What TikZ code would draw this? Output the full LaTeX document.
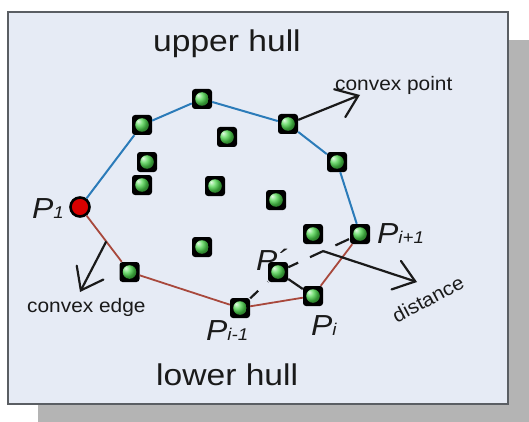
\documentclass[tikz,border=0pt]{standalone}
\usepackage{fontspec}
\setmainfont{Liberation Sans}
\usetikzlibrary{arrows.meta,calc}
\definecolor{boxfill}{HTML}{E6EBF5}
\definecolor{boxedge}{HTML}{5A5E63}
\definecolor{shadowgray}{HTML}{B4B4B4}
\definecolor{upblue}{HTML}{2B7BB9}
\definecolor{lowbrown}{HTML}{A8483C}
\definecolor{ink}{HTML}{1A1A1A}
\definecolor{ptgreen}{HTML}{4CD64C}
\newcommand{\plab}[1]{\scalebox{1.1}[1]{\fontsize{29}{29}\selectfont\itshape P\fontsize{17}{17}\selectfont #1}}
\tikzset{
  gpt/.style={rectangle, rounded corners=3pt, fill=black, minimum size=20pt, inner sep=0pt,
    path picture={\shade[ball color=ptgreen] (path picture bounding box.center) circle (6.8pt);}},
  redpt/.style={circle, fill=red!85!black, draw=black, line width=2.6pt, minimum size=19pt, inner sep=0pt},
  upline/.style={upblue, line width=2pt},
  lowline/.style={lowbrown, line width=1.8pt},
  lab/.style={anchor=base west, inner sep=0pt, text=ink},
  barb/.style={ink, line width=2.2pt, arrows={-Straight Barb[length=20pt,width=30pt,line cap=round,line width=2.2pt]}},
  dashln/.style={ink, line width=2.2pt, dash pattern=on 15pt off 13pt, dash phase=4pt},
}
\begin{document}
\begin{tikzpicture}[x=1pt,y=-1pt]
\useasboundingbox (0,0) rectangle (529,422);
% shadow and box
\fill[shadowgray] (38,40) rectangle (529,422);
\filldraw[fill=boxfill, draw=boxedge, line width=1.5pt] (8,12) rectangle (508,404);
% points
\node[redpt] (P1) at (80,207) {};
\node[gpt] (A) at (142,125) {};
\node[gpt] (B) at (202,99) {};
\node[gpt] (C) at (288,124) {};
\node[gpt] (D) at (337,162) {};
\node[gpt] (Pn) at (360,234) {};
\node[gpt] (Pi) at (313,296) {};
\node[gpt] (Pm) at (240,308) {};
\node[gpt] (E) at (129.5,272) {};
\node[gpt] (I1) at (227,137) {};
\node[gpt] (I2) at (147,162) {};
\node[gpt] (I3) at (142,185) {};
\node[gpt] (I4) at (215,186) {};
\node[gpt] (I5) at (276,200) {};
\node[gpt] (I6) at (313,234) {};
\node[gpt] (I7) at (202,247) {};
\node[gpt] (Pp) at (278,272) {};
% hulls
\draw[upline] (P1) -- (A);
\draw[upline] (A) -- (B);
\draw[upline] (B) -- (C);
\draw[upline] (C) -- (D);
\draw[upline] (D) -- (Pn);
\draw[lowline] (P1) -- (E);
\draw[lowline] (E) -- (Pm);
\draw[lowline] (Pm) -- (Pi);
\draw[lowline] (Pi) -- (Pn);
% distance construction
\draw[dashln] (Pm) -- (Pp);
\draw[dashln] (Pp) -- (Pn);
\draw[ink, line width=2.2pt] (Pp) -- (Pi);
% arrows
\coordinate (cpt) at (360,95);
\draw[barb] (C) -- (cpt);
\coordinate (ces) at ($(P1)!0.53!(E)$);
\coordinate (cee) at (80,292);
\draw[barb] (ces) -- (cee);
\coordinate (dst) at ($(Pp)!0.55!(Pn)$);
\coordinate (den) at (417,282);
\draw[barb] (dst) -- (den);
% labels
\node[lab] (tu) at (153,52) {\scalebox{1.12}[1]{\fontsize{30}{30}\selectfont upper hull}};
\node[lab] (tl) at (156,385) {\scalebox{1.12}[1]{\fontsize{30}{30}\selectfont lower hull}};
\node[lab] (tcp) at (335,91) {\scalebox{1.07}[1]{\fontsize{19.5}{19.5}\selectfont convex point}};
\node[lab] (tce) at (27,312) {\scalebox{1.07}[1]{\fontsize{19.5}{19.5}\selectfont convex edge}};
\node[inner sep=0pt, text=ink, rotate=28] (td) at (428,299) {\scalebox{1.07}[1]{\fontsize{19.5}{19.5}\selectfont distance}};
\node[lab] (l1) at (32,218) {\plab{1}};
\node[lab] (ln) at (377,243) {\plab{i+1}};
\node[lab] (lp) at (256,270) {\scalebox{1.1}[1]{\fontsize{29}{29}\selectfont\itshape P´}};
\node[lab] (lm) at (206,340) {\plab{i-1}};
\node[lab] (li) at (311,335) {\plab{i}};
\end{tikzpicture}
\end{document}
